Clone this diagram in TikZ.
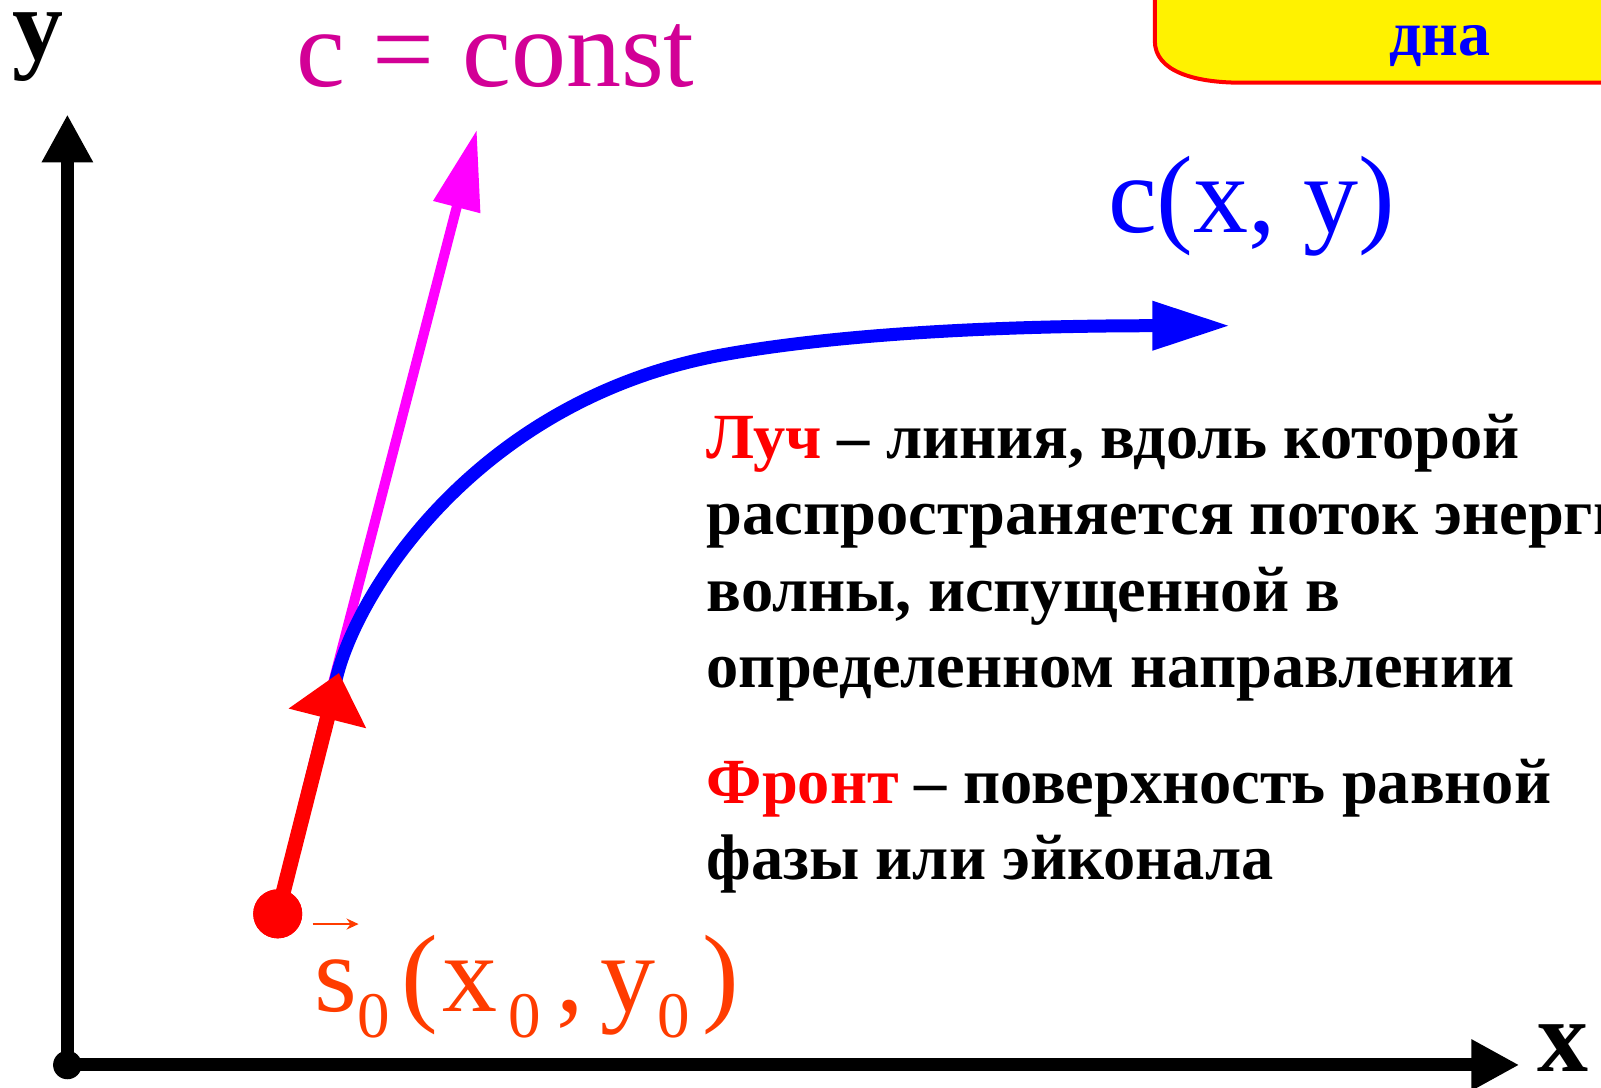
\documentclass[tikz,border=0pt]{standalone}
\usepackage{fontspec}
\setmainfont{Liberation Serif}
\usepackage{tikz}
\usetikzlibrary{arrows.meta, positioning}
\definecolor{raymag}{RGB}{255,0,255}
\definecolor{constmag}{RGB}{210,0,150}
\definecolor{srcorange}{RGB}{255,60,0}
\newcommand\lowsub[1]{\raisebox{-26pt}{\fontsize{65}{65}\selectfont #1}}
\tikzset{
  axisline/.style={line width=13pt, -{Triangle[length=48pt, width=48pt]}},
  axislabel/.style={inner sep=0, font=\fontsize{102}{102}\selectfont\bfseries},
  biglabel/.style={inner sep=0, anchor=base west, text=#1,
    font=\fontsize{110}{110}\selectfont},
  constarrow/.style={line width=10pt, draw=raymag,
    -{Triangle[length=80pt, width=46pt]}},
  raycurve/.style={line width=13pt, draw=blue,
    -{Triangle[length=78pt, width=46pt]}},
  srcarrow/.style={line width=15pt, draw=red,
    -{Triangle[length=47pt, width=77pt]}},
  srcdot/.style={circle, fill=red, minimum size=49pt, inner sep=0},
  vecmark/.style={line width=2.5pt, draw=srcorange,
    -{Stealth[length=12pt, width=11pt]}},
  titlebox/.style={draw=red, line width=4pt, fill=yellow},
  bodytext/.style={inner sep=0, anchor=north west, align=left,
    font=\fontsize{64.4}{76.5}\selectfont\bfseries},
}
\begin{document}
\begin{tikzpicture}[x=1.021pt, y=-1.021pt]
  \useasboundingbox (0,0) rectangle (1568,1065);
  \clip (0,0) rectangle (1568,1065);

  % heading box, cut by the frame
  \draw[titlebox] (1131,-20) -- (1131,40)
    .. controls (1131,70) and (1170,81) .. (1216,81)
    -- (1600,81) -- (1600,-20) -- cycle;
  \node[inner sep=0, text=blue, font=\fontsize{64}{64}\selectfont\bfseries]
    (head) at (1410,45) {дна};

  % axes
  \coordinate (orig) at (66,1043);
  \coordinate (ytip) at (66,112);
  \coordinate (xtip) at (1488,1043);
  \draw[axisline] (orig) -- (ytip);
  \draw[axisline] (orig) -- (xtip);
  \fill (orig) circle (14);
  \node[axislabel] (ylab) at (37,46) {y};
  \node[axislabel] (xlab) at (1531,1026) {x};

  % ray, tangent and start point
  \node[srcdot] (src) at (272,895) {};
  \coordinate (mfoot) at (322,685);
  \coordinate (mtip) at (467,127);
  \coordinate (bend) at (330,662);
  \coordinate (mid) at (705,348);
  \coordinate (btip) at (1205,319);
  \coordinate (rtip) at (332,659);
  \draw[constarrow] (mfoot) -- (mtip);
  \draw[raycurve] (src.center) -- (bend)
    .. controls (352,575) and (470,392) .. (mid)
    .. controls (830,325) and (1000,319) .. (btip);
  \draw[srcarrow] (src.center) -- (rtip);
  \fill[red] (src) circle (24);

  % labels
  \node[biglabel=constmag] (constlab) at (290,85) {c = const};
  \node[biglabel=blue] (curvelab) at (1085,228) {c(x, y)};
  \node[biglabel=srcorange] (srclab) at (308,991)
    {s\lowsub{0}\hspace{12pt}(\hspace{4pt}x\hspace{11pt}\lowsub{0}\hspace{15pt},\hspace{17pt}y\hspace{2pt}\lowsub{0}\hspace{12pt})};
  \draw[vecmark] ([shift={(10,10)}]src.east) -- ++(45,0);

  \node[bodytext] (defs) at (692,405)
    {\textcolor{red}{Луч} – линия, вдоль которой\\
     распространяется поток энергии\\
     волны, испущенной в\\
     определенном направлении\\[39pt]
     \textcolor{red}{Фронт} – поверхность равной\\
     фазы или эйконала};
\end{tikzpicture}
\end{document}
